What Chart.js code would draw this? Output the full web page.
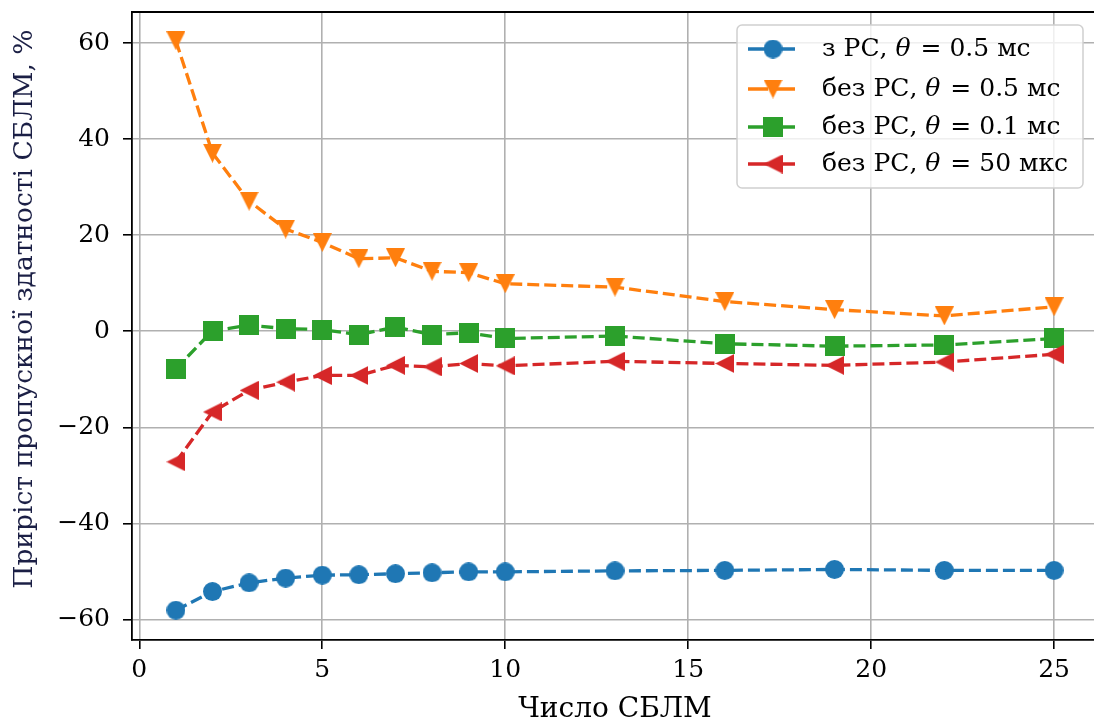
<!DOCTYPE html>
<html>
<head>
<meta charset="utf-8">
<script src="https://cdn.jsdelivr.net/npm/chart.js@4.4.1/dist/chart.umd.min.js"></script>
<style>
  html, body { margin: 0; padding: 0; background: #fff; overflow: hidden; }
  #wrap { position: relative; width: 1100px; height: 724px; }
</style>
</head>
<body>
<div id="wrap"><canvas id="chart" width="1100" height="724"></canvas></div>
<script>
// дані
const sblmCount = [1, 2, 3, 4, 5, 6, 7, 8, 9, 10, 13, 16, 19, 22, 25];
const withRs05 = [-58.1, -54.2, -52.4, -51.4, -50.8, -50.7, -50.5, -50.3, -50.1, -50.1, -49.9, -49.8, -49.6, -49.8, -49.8];
const noRs05 = [60.5, 37.1, 27.1, 21.3, 18.5, 15.1, 15.3, 12.5, 12.2, 9.9, 9.2, 6.2, 4.5, 3.2, 5.1];
const noRs01 = [-7.8, 0.1, 1.25, 0.55, 0.35, -0.7, 0.9, -0.7, -0.3, -1.5, -1.0, -2.6, -3.1, -2.85, -1.5];
const noRs50us = [-27.2, -16.8, -12.3, -10.6, -9.2, -9.2, -7.1, -7.4, -6.7, -7.2, -6.25, -6.7, -7.1, -6.4, -4.8];
const xTicks = [0, 5, 10, 15, 20, 25];
const yTicks = [-60, -40, -20, 0, 20, 40, 60];
const legendPrefix = ['з РС, ', 'без РС, ', 'без РС, ', 'без РС, '];
const legendValue = ['0.5 мс', '0.5 мс', '0.1 мс', '50 мкс'];

const colors = ['#1f77b4', '#ff7f0e', '#2ca02c', '#d62728'];
const shapes = ['circle', 'down', 'square', 'left'];
const serif = '"DejaVu Serif", serif';
const FS = 25;

function makeMarker(shape, color, size) {
  const c = document.createElement('canvas');
  c.width = c.height = size;
  const g = c.getContext('2d');
  const h = size / 2;
  g.fillStyle = color;
  g.beginPath();
  if (shape === 'circle') g.arc(h, h, h, 0, Math.PI * 2);
  else if (shape === 'square') g.rect(0, 0, size, size);
  else if (shape === 'down') { g.moveTo(0, 0); g.lineTo(size, 0); g.lineTo(h, size); }
  else if (shape === 'left') { g.moveTo(0, h); g.lineTo(size, 0); g.lineTo(size, size); }
  g.closePath();
  g.fill();
  return c;
}

const markers = shapes.map((s, i) => makeMarker(s, colors[i], s === 'square' ? 20 : 19));
const series = [withRs05, noRs05, noRs01, noRs50us];

const datasets = series.map((vals, i) => ({
  label: legendPrefix[i] + 'θ = ' + legendValue[i],
  data: sblmCount.map((x, j) => ({ x, y: vals[j] })),
  borderColor: colors[i],
  backgroundColor: colors[i],
  borderWidth: 3.3,
  borderDash: [12, 5],
  pointStyle: markers[i],
  pointRadius: 10,
  pointHoverRadius: 10,
  tension: 0,
  fill: false,
  order: 4 - i
}));

// рамка зверху/справа + легенда
const framePlugin = {
  id: 'frame',
  afterDatasetsDraw(chart) {
    const { ctx, chartArea: a } = chart;
    ctx.save();
    ctx.strokeStyle = '#000';
    ctx.lineWidth = 1.8;
    ctx.beginPath();
    ctx.moveTo(a.left, a.top);
    ctx.lineTo(a.right, a.top);
    ctx.lineTo(a.right, a.bottom);
    ctx.stroke();

    // легенда
    const bx = 737, by = 25, bw = 346, bh = 163;
    ctx.fillStyle = 'rgba(255,255,255,0.8)';
    ctx.strokeStyle = '#d0d0d0';
    ctx.lineWidth = 1.5;
    ctx.beginPath();
    ctx.roundRect(bx, by, bw, bh, 5);
    ctx.fill();
    ctx.stroke();
    const rows = [49, 89, 127, 164];
    rows.forEach((y, i) => {
      ctx.strokeStyle = colors[i];
      ctx.lineWidth = 3.3;
      ctx.setLineDash([20, 7]);
      ctx.beginPath();
      ctx.moveTo(748, y);
      ctx.lineTo(800, y);
      ctx.stroke();
      ctx.setLineDash([]);
      const m = markers[i];
      ctx.drawImage(m, 773 - m.width / 2, y - m.height / 2);
      ctx.fillStyle = '#000';
      ctx.textBaseline = 'middle';
      ctx.textAlign = 'left';
      let x = 822;
      ctx.font = FS + 'px ' + serif;
      ctx.fillText(legendPrefix[i], x, y);
      x += ctx.measureText(legendPrefix[i]).width;
      ctx.font = 'italic ' + FS + 'px ' + serif;
      ctx.fillText('θ', x, y);
      x += ctx.measureText('θ').width + 10;
      ctx.font = FS + 'px ' + serif;
      ctx.fillText('=', x, y);
      x += ctx.measureText('=').width + 8;
      ctx.fillText(legendValue[i], x, y);
    });
    ctx.restore();
  }
};

const minus = v => String(v).replace('-', '\u2212');

new Chart(document.getElementById('chart'), {
  type: 'line',
  data: { datasets },
  options: {
    responsive: false,
    animation: false,
    layout: { autoPadding: false, padding: { top: 12, left: 0, right: 2, bottom: 0 } },
    plugins: { legend: { display: false }, tooltip: { enabled: false } },
    scales: {
      x: {
        type: 'linear', min: -0.2, max: 26.2,
        afterBuildTicks: s => { s.ticks = xTicks.map(v => ({ value: v })); },
        afterFit: s => { s.height = 84; s.paddingLeft = 0; s.paddingRight = 0; },
        ticks: { color: '#000', padding: 6, font: { family: serif, size: FS }, callback: v => minus(v) },
        grid: { color: '#b0b0b0', lineWidth: 1.6, tickColor: '#000', tickLength: 9, tickWidth: 1.6 },
        border: { color: '#000', width: 1.8 },
        title: { display: true, text: 'Число СБЛМ', color: '#000', padding: { top: 0, bottom: 0 },
          font: { family: serif, size: 28, lineHeight: 1 } }
      },
      y: {
        type: 'linear', min: -64.3, max: 66.5,
        afterBuildTicks: s => { s.ticks = yTicks.map(v => ({ value: v })); },
        afterFit: s => { s.width = 132; s.paddingTop = 0; s.paddingBottom = 0; },
        ticks: { color: '#000', padding: 13, font: { family: serif, size: FS }, callback: v => minus(v) },
        grid: { color: '#b0b0b0', lineWidth: 1.6, tickColor: '#000', tickLength: 9, tickWidth: 1.6 },
        border: { color: '#000', width: 1.8 },
        title: { display: true, text: '    Приріст пропускної здатності СБЛМ, %', color: '#1b1f45',
          padding: { top: 12, bottom: 0 },
          font: { family: serif, size: 26.5, lineHeight: 1 } }
      }
    }
  },
  plugins: [framePlugin]
});
</script>
</body>
</html>
